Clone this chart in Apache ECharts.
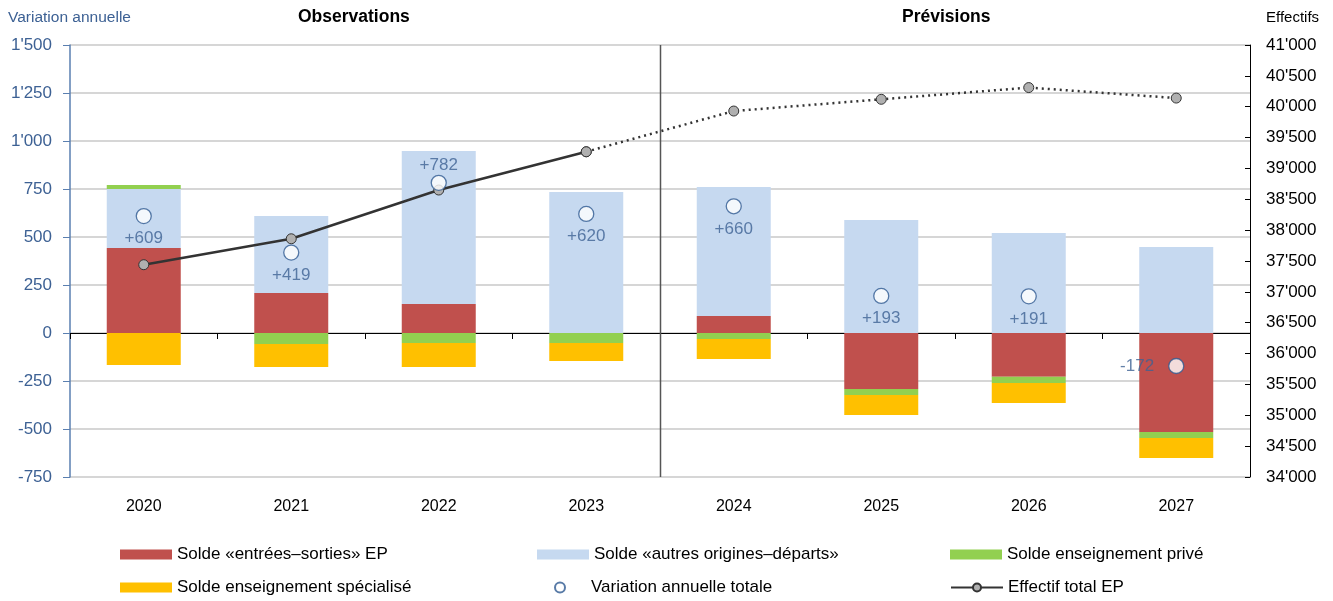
<!DOCTYPE html>
<html lang="fr">
<head>
    <meta charset="UTF-8">
    <title>Variation annuelle des effectifs EP</title>
    <style>
        body {
            margin: 0px;
            padding: 0px;
            background: #ffffff;
        }

        #chart {
            width: 1333px;
            height: 601px;
        }
    </style>
</head>
<body>
    <div id="chart"></div>
    <script src="https://cdn.jsdelivr.net/npm/echarts@6/dist/echarts.min.js"></script>
    <script>
        // données
        var years = ['2020', '2021', '2022', '2023', '2024', '2025', '2026', '2027'];
        var soldeEntreesSorties = [443, 208, 151, 0, 88, -292, -228, -515];
        var soldeAutresOrigines = [307, 401, 797, 734, 672, 589, 521, 448];
        var soldePrive = [21, -57, -52, -52, -31, -31, -32, -32];
        var soldeSpecialise = [-167, -120, -125, -94, -104, -104, -105, -104];
        var variationTotale = [609, 419, 782, 620, 660, 193, 191, -172];
        var effectifTotal = [37440, 37860, 38650, 39270, 39930, 40120, 40310, 40140];
        var lastObservation = 3; // 2023

        var labelBlue = '#3d6194';
        var font = 'Liberation Sans, Arial, sans-serif';

        function fmt(v) {
            var s = String(Math.abs(v)).replace(/\B(?=(\d{3})+(?!\d))/g, "'");
            return (v < 0 ? '-' : '') + s;
        }

        var solid = effectifTotal.map(function (v, i) { return i <= lastObservation ? v : '-'; });
        var dotted = effectifTotal.map(function (v, i) { return i >= lastObservation ? v : '-'; });

        var labelPos = variationTotale.map(function (v, i) {
            if (i == 2) return 'top';
            if (v < 0) return 'left';
            return 'bottom';
        });
        var labelDist = { top: 1, bottom: 6, left: 14 };

        function legendItem(name, left, top, extra) {
            var l = {
                data: [name],
                left: left,
                top: top,
                padding: 0,
                itemWidth: 52,
                itemHeight: 10,
                itemGap: 0,
                selectedMode: false,
                textStyle: { fontFamily: font, fontSize: 17, color: '#000' }
            };
            for (var k in extra) l[k] = extra[k];
            return l;
        }

        var dom = document.getElementById('chart');
        var myChart = echarts.init(dom);

        var option = {
            animation: false,
            textStyle: { fontFamily: font },
            title: [
                { text: 'Observations', left: 298, top: 8, padding: 0,
                  textStyle: { fontFamily: font, fontSize: 17.5, fontWeight: 'bold', color: '#000' } },
                { text: 'Prévisions', left: 902, top: 8, padding: 0,
                  textStyle: { fontFamily: font, fontSize: 17.5, fontWeight: 'bold', color: '#000' } },
                { text: 'Variation annuelle', left: 8, top: 10, padding: 0,
                  textStyle: { fontFamily: font, fontSize: 15.5, fontWeight: 'normal', color: labelBlue } },
                { text: 'Effectifs', left: 1266, top: 10, padding: 0,
                  textStyle: { fontFamily: font, fontSize: 15, fontWeight: 'normal', color: '#000' } }
            ],
            legend: [
                legendItem('Solde «entrées–sorties» EP', 120, 546, { icon: 'rect' }),
                legendItem('Solde «autres origines–départs»', 537, 546, { icon: 'rect' }),
                legendItem('Solde enseignement privé', 950, 546, { icon: 'rect' }),
                legendItem('Solde enseignement spécialisé', 120, 579, { icon: 'rect' }),
                legendItem('Variation annuelle totale', 554, 579, {}),
                legendItem('Effectif total EP', 950, 579, {})
            ],
            grid: { left: 70, right: 83, top: 45, bottom: 124 },
            xAxis: [
                {
                    type: 'category',
                    data: years,
                    position: 'bottom',
                    axisLine: { show: false, onZero: false },
                    axisTick: { show: false },
                    axisLabel: { color: '#000', fontSize: 16, margin: 22, fontFamily: font }
                },
                {
                    type: 'category',
                    data: years,
                    position: 'bottom',
                    axisLine: { show: true, onZero: true, lineStyle: { color: '#000', width: 1 } },
                    axisTick: { show: true, length: 6, lineStyle: { color: '#000' } },
                    axisLabel: { show: false }
                }
            ],
            yAxis: [
                {
                    type: 'value',
                    min: -750,
                    max: 1500,
                    interval: 250,
                    axisLine: { show: true, lineStyle: { color: '#5a7fb0', width: 1.5 } },
                    axisTick: { show: true, length: 7, lineStyle: { color: '#5a7fb0' } },
                    axisLabel: { color: labelBlue, fontSize: 17, margin: 18, formatter: fmt, fontFamily: font },
                    splitLine: { show: true, lineStyle: { color: '#c8c8c8', width: 1.5 } }
                },
                {
                    type: 'value',
                    min: 34000,
                    max: 41000,
                    interval: 500,
                    position: 'right',
                    axisLine: { show: true, lineStyle: { color: '#000', width: 1 } },
                    axisTick: { show: true, inside: true, length: 5, lineStyle: { color: '#000' } },
                    axisLabel: { color: '#000', fontSize: 17, margin: 16, formatter: fmt, fontFamily: font },
                    splitLine: { show: false }
                }
            ],
            series: [
                {
                    name: 'Solde «entrées–sorties» EP', type: 'bar', stack: 'solde', barWidth: 74,
                    itemStyle: { color: '#c0504d' }, data: soldeEntreesSorties
                },
                {
                    name: 'Solde «autres origines–départs»', type: 'bar', stack: 'solde', barWidth: 74,
                    itemStyle: { color: '#c6d9f0' }, data: soldeAutresOrigines
                },
                {
                    name: 'Solde enseignement privé', type: 'bar', stack: 'solde', barWidth: 74,
                    itemStyle: { color: '#92d050' }, data: soldePrive
                },
                {
                    name: 'Solde enseignement spécialisé', type: 'bar', stack: 'solde', barWidth: 74,
                    itemStyle: { color: '#ffc000' }, data: soldeSpecialise
                },
                {
                    name: 'Effectif total EP', type: 'line', yAxisIndex: 1, z: 5,
                    data: solid,
                    symbol: 'circle', symbolSize: 10,
                    itemStyle: { color: '#b0b0b0', borderColor: '#333', borderWidth: 1 },
                    lineStyle: { color: '#333', width: 2.5 }
                },
                {
                    name: 'Effectif prévu', type: 'line', yAxisIndex: 1, z: 5,
                    data: dotted,
                    symbol: 'circle', symbolSize: 10,
                    itemStyle: { color: '#b0b0b0', borderColor: '#333', borderWidth: 1 },
                    lineStyle: { color: '#333', width: 2.5, type: [2, 4] }
                },
                {
                    name: 'Variation annuelle totale', type: 'scatter', z: 6,
                    symbol: 'circle', symbolSize: 15,
                    itemStyle: { color: '#fff', borderColor: '#2f5a91', borderWidth: 1.3 },
                    data: variationTotale.map(function (v, i) {
                        return {
                            value: v,
                            label: { position: labelPos[i], distance: labelDist[labelPos[i]] }
                        };
                    }),
                    label: {
                        show: true,
                        color: labelBlue,
                        fontSize: 17,
                        fontFamily: font,
                        formatter: function (p) { return p.value > 0 ? '+' + p.value : String(p.value); }
                    }
                }
            ]
        };

        myChart.setOption(option);

        // séparateur observations / prévisions entre 2023 et 2024
        var xa = myChart.convertToPixel({ xAxisIndex: 0 }, years[lastObservation]);
        var xb = myChart.convertToPixel({ xAxisIndex: 0 }, years[lastObservation + 1]);
        var yTop = myChart.convertToPixel({ yAxisIndex: 0 }, 1500);
        var yBot = myChart.convertToPixel({ yAxisIndex: 0 }, -750);
        var xs = Math.round((xa + xb) / 2) + 0.5;
        myChart.setOption({
            graphic: [{
                type: 'line',
                shape: { x1: xs, y1: yTop, x2: xs, y2: yBot },
                style: { stroke: '#555', lineWidth: 1.5 },
                z: 1
            }]
        });
    </script>
</body>
</html>
